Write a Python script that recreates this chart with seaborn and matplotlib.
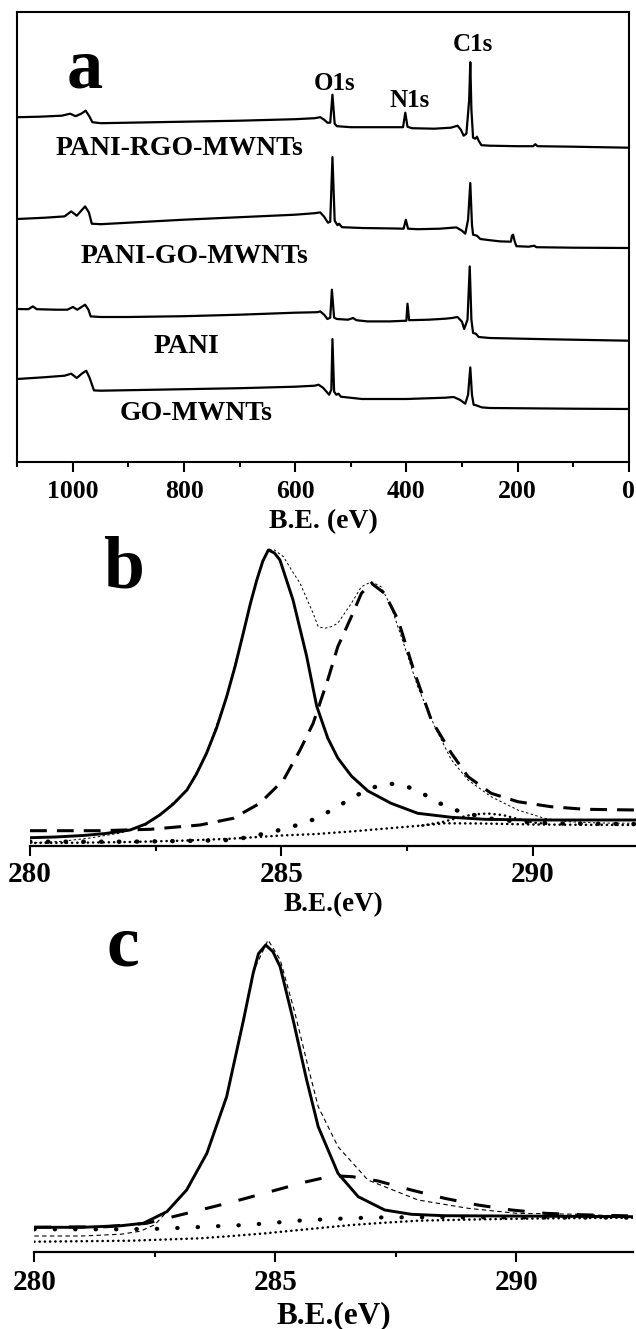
import numpy as np
import pandas as pd
import matplotlib
matplotlib.use("Agg")
import matplotlib.pyplot as plt
from matplotlib.ticker import MultipleLocator
import seaborn as sns

# ---------------- Panel a: survey spectra (B.E. eV, intensity a.u.) ----------------
rgo_be = [1100, 1060, 1020, 1005, 995, 985, 977, 970, 965, 950, 900, 800, 700, 600, 565, 555, 548, 542, 537,
          533, 529, 525, 500, 450, 406, 402, 398, 390, 350, 320, 308, 302, 297, 292, 287, 285, 283, 280, 276,
          273, 270, 265, 250, 200, 172, 168, 164, 100, 50, 0]
rgo_int = [344.5, 345, 346, 348, 345.5, 348, 351, 345, 339.5, 338.5, 339, 340, 341, 342.5, 343.5, 344.5, 342,
           339, 339, 367, 338, 335.5, 334.5, 334.5, 334.5, 349, 335, 333.5, 333, 334, 336, 332, 326, 328, 362,
           399.5, 352, 324, 323, 325, 321, 316.5, 316, 315.5, 315.5, 317.5, 315.5, 315, 314.5, 314]

go_pani_be = [1100, 1050, 1015, 1003, 993, 985, 978, 971, 966, 950, 900, 800, 700, 600, 565, 555, 548, 541, 537,
              533, 529, 524, 521, 516, 480, 420, 405, 401, 397, 380, 340, 310, 300, 294, 289, 285, 282, 280,
              273, 267, 250, 231, 212, 210, 208, 205, 202, 180, 170, 166, 100, 0]
go_pani_int = [242.7, 244, 245.3, 250.3, 246, 251, 255.3, 249, 238, 237.5, 239, 242, 244.5, 247, 248.5, 249.3,
               245, 239, 240, 304.7, 241, 236.5, 238, 234.5, 233.7, 233.2, 233, 242, 233, 232.5, 233, 234.3, 231,
               228, 242, 278.7, 237, 227, 226, 222.7, 221.5, 220.3, 220, 226, 227, 220, 215.5, 215, 216, 214.5,
               214, 213.7]

pani_be = [1100, 1080, 1072, 1065, 1030, 1010, 1000, 992, 978, 972, 968, 950, 900, 800, 700, 600, 560, 555, 548,
           542, 537, 534, 530, 525, 505, 496, 490, 470, 430, 400, 398, 395, 360, 330, 318, 308, 300, 296, 290,
           286, 283, 280, 275, 270, 250, 150, 50, 0]
pani_int = [152.7, 152.5, 155.3, 152.5, 152, 152, 154.7, 152, 157, 152, 145.3, 144.7, 144.7, 145.5, 147, 149,
            149.5, 150.3, 147, 142.7, 144, 172, 144, 142.7, 142, 143.7, 141.5, 140.3, 140.3, 141, 158, 141.5,
            142, 143, 143.7, 144.7, 140, 132.7, 142, 195.3, 142, 128.7, 128, 124.7, 123.7, 122.5, 121.5, 121]

gomw_be = [1100, 1050, 1015, 1003, 993, 984, 976, 970, 962, 950, 900, 800, 700, 600, 565, 558, 550, 539, 535,
           533, 530, 526, 522, 518, 480, 400, 330, 315, 304, 294, 289, 285, 282, 279, 275, 264, 250, 100, 0]
gomw_int = [82.7, 84.5, 86, 88, 83.7, 88, 91, 84, 71.3, 71, 71.5, 72.5, 73.5, 75, 76, 77, 74, 67, 72, 122.7,
            70, 67, 68, 65, 62.7, 62.7, 64, 64.7, 62, 58, 67, 94.3, 67, 57, 56.5, 54.3, 53.7, 53, 52.7]

survey_labels = ["PANI-RGO-MWNTs", "PANI-GO-MWNTs", "PANI", "GO-MWNTs"]
survey_label_be = [809, 782, 795, 778.5]
survey_label_int = [306.7, 198.4, 108.4, 41.7]
peak_names = ["O1s", "N1s", "C1s"]
peak_label_be = [528.7, 393.5, 279.6]
peak_label_int = [371.7, 355, 411]
survey_ticks = [1000, 800, 600, 400, 200, 0]

# ---------------- Panel b: C1s fit, PANI-GO-MWNTs ----------------
b_solid_be = [280, 280.5, 281.06, 281.5, 281.99, 282.3, 282.58, 282.85, 283.12, 283.31, 283.51, 283.71, 283.91,
              284.08, 284.24, 284.38, 284.51, 284.63, 284.74, 284.86, 284.97, 285.23, 285.5, 285.7, 285.92,
              286.12, 286.39, 286.72, 287.18, 287.71, 288.38, 289.04, 290, 292.05]
b_solid_int = [8.3, 9, 10.5, 12.5, 16, 22, 31, 42, 56, 72, 92.7, 118, 149.3, 180, 212.7, 242, 266, 285, 296,
               293, 286, 246, 190, 140, 108, 88, 70, 55, 42.7, 32.7, 28.7, 26.7, 26, 26]

b_env_be = [280, 280.6, 281.2, 281.8, 282.3, 282.58, 283.12, 283.51, 283.91, 284.24, 284.51, 284.74, 284.86,
            285.04, 285.2, 285.37, 285.63, 285.73, 285.86, 286.0, 286.12, 286.39, 286.59, 286.79, 286.98,
            287.18, 287.45, 287.71, 288.05, 288.38, 288.71, 289.17, 289.7, 290.23, 290.7, 291.3, 292.05]
b_env_int = [3.3, 4.5, 8, 13, 21, 31, 56, 93, 150, 214, 268, 297, 296, 289.3, 276, 262.7, 232.7, 219.3, 217.7,
             219.5, 222.7, 242.7, 259.3, 264.3, 259.3, 239.3, 199.3, 159.3, 119.3, 86, 66, 49.3, 36, 27.7,
             24.3, 23, 22.7]

b_dash_be = [280, 281.39, 282.39, 283.38, 284.04, 284.57, 285.04, 285.37, 285.63, 285.92, 286.12, 286.39,
             286.59, 286.79, 287.05, 287.32, 287.65, 287.98, 288.38, 288.71, 289.17, 289.7, 290.36, 291.03, 292.05]
b_dash_int = [15.3, 15.3, 16.7, 21, 27.7, 42.7, 66, 96, 122.7, 166, 199.3, 229.3, 252.7, 262.7, 252.7, 226,
              172.7, 126, 92.7, 69.3, 52.7, 44.3, 39.3, 36.7, 36]

b_bigdot_be = [280, 282, 283, 284.04, 284.7, 285.1, 285.43, 285.7, 286.06, 286.39, 286.72, 287.08, 287.42,
               287.75, 288.08, 288.41, 288.74, 289.2, 289.8, 290.5, 292.05]
b_bigdot_int = [4.3, 4.3, 5, 6, 12.7, 17.7, 22.7, 27.7, 37.7, 47.7, 56.7, 62.7, 61, 54.3, 44.3, 36.7, 32, 27,
                24, 22.5, 22]

b_bg_be = [280, 281, 282, 283, 284, 285, 285.7, 286.5, 287.2, 287.8, 288.24, 289, 290, 291, 292.05]
b_bg_int = [3, 3.3, 4, 5.3, 7.3, 10.5, 12, 15, 18, 20.5, 22.7, 22.5, 21.5, 21.2, 21]

b_small_be = [287.8, 288.2, 288.5, 288.8, 289.1, 289.4, 289.7, 290.0, 290.3]
b_small_int = [20.5, 24, 28, 31.5, 32.5, 31, 27, 23.5, 22]

# ---------------- Panel c: C1s fit, PANI-RGO-MWNTs ----------------
c_solid_be = [280, 281, 281.8, 282.26, 282.75, 283.16, 283.58, 283.99, 284.34, 284.54, 284.65, 284.8, 284.95,
              285.1, 285.37, 285.65, 285.89, 286.3, 286.72, 287.27, 287.82, 288.5, 292.45]
c_solid_int = [24.4, 24.4, 26, 28.4, 40, 61.7, 98.4, 155, 231.7, 278.4, 298, 306.7, 300, 285, 231.7, 171.7,
               125, 78.4, 55, 41.7, 37.4, 36, 35]

c_env_be = [280, 281, 281.8, 282.2, 282.5, 282.75, 283.16, 283.58, 283.99, 284.34, 284.54, 284.85, 285.1,
            285.4, 285.7, 285.89, 286.3, 286.92, 287.96, 289.0, 290.0, 291.3, 292.45]
c_env_int = [15.7, 15.7, 17.5, 20.5, 27, 40, 62, 99, 156, 233, 280, 311.7, 292, 240, 181, 145, 105, 71.7,
             51.7, 43.4, 38.4, 37.4, 35]

c_dash_be = [280, 281.5, 282.33, 282.88, 283.44, 284.13, 284.89, 285.65, 286.2, 286.6, 287.13, 287.82, 288.51,
             289.2, 289.9, 290.6, 291.3, 292.45]
c_dash_int = [24.4, 25, 28.4, 35, 41.7, 50, 60, 70, 76, 75, 70.7, 61.7, 53.4, 46.7, 41.7, 38.4, 37, 35.7]

c_bigdot_be = [280, 281.85, 282.26, 282.68, 283.09, 283.58, 283.99, 284.41, 284.82, 285.24, 285.65, 286.09,
               286.5, 286.92, 287.34, 287.75, 288.5, 292.45]
c_bigdot_int = [22.4, 22.4, 22.7, 23, 24, 25, 26, 26.7, 28.4, 30, 31.7, 32.4, 33.4, 34, 34.4, 34.4, 34.4, 34]

c_bg_be = [280, 282, 283.44, 284.1, 284.8, 285.5, 285.86, 286.58, 287.27, 287.96, 289.3, 290.7, 292.45]
c_bg_int = [10, 11, 13.4, 15.7, 18.4, 21.7, 23.4, 26.7, 29, 31, 32.4, 33.4, 34]

hr_ticks = [280, 285, 290]

# ---------------- styling ----------------
sns.set_theme(style="white")
plt.rcParams["font.family"] = ["Liberation Serif", "DejaVu Serif"]
plt.rcParams["font.weight"] = "bold"
plt.rcParams["axes.labelweight"] = "bold"
plt.rcParams["text.color"] = "black"
plt.rcParams["axes.labelcolor"] = "black"
plt.rcParams["xtick.color"] = "black"
plt.rcParams["axes.edgecolor"] = "black"

W, H = 636, 1329
fig = plt.figure(figsize=(W / 100, H / 100), dpi=100)


def box(l, t, r, b):
    return [l / W, 1 - b / H, (r - l) / W, (b - t) / H]


def line(ax, x, y, **kw):
    df = pd.DataFrame({"x": x, "y": y})
    sns.lineplot(data=df, x="x", y="y", ax=ax, sort=False, estimator=None, color="black", **kw)


# ----- panel a -----
axa = fig.add_axes(box(17.3, 12, 628.7, 461.7))
axa.set_facecolor("none")
for be, it in [(rgo_be, rgo_int), (go_pani_be, go_pani_int), (pani_be, pani_int), (gomw_be, gomw_int)]:
    line(axa, be, it, linewidth=1.6, solid_joinstyle="round")
axa.set_xlim(1100, 0)
axa.set_ylim(0, 449.7)
axa.set_yticks([])
axa.xaxis.set_minor_locator(MultipleLocator(100))
axa.set_xticks(survey_ticks)
axa.set_xticklabels([str(t) for t in survey_ticks])
axa.tick_params(axis="x", which="major", direction="out", length=7, width=1.5, labelsize=18.5, pad=6.3,
                bottom=True, colors="black")
axa.tick_params(axis="x", which="minor", direction="out", length=3.6, width=1.5, bottom=True, colors="black")
for s in axa.spines.values():
    s.set_linewidth(1.5)
    s.set_color("black")
axa.set_xlabel("B.E. (eV)", fontsize=20, fontweight="bold", labelpad=4.3, color="black")
axa.set_ylabel("")
for lab, bx, iy in zip(survey_labels, survey_label_be, survey_label_int):
    axa.text(bx, iy, lab, ha="center", va="baseline", fontsize=20, fontweight="bold", color="black")
for lab, bx, iy in zip(peak_names, peak_label_be, peak_label_int):
    axa.text(bx, iy, lab, ha="center", va="baseline", fontsize=18, fontweight="bold", color="black")
axa.text(978, 374.7, "a", ha="center", va="baseline", fontsize=52, fontweight="bold", color="black")


def hr_axes(ax, xmax, ymax, pad):
    ax.set_facecolor("none")
    ax.set_xlim(280, xmax)
    ax.set_ylim(0, ymax)
    ax.set_yticks([])
    ax.set_xticks(hr_ticks)
    ax.set_xticklabels([str(t) for t in hr_ticks])
    ax.xaxis.set_minor_locator(MultipleLocator(2.5))
    ax.tick_params(axis="x", which="major", direction="out", length=7, width=1.5, labelsize=21, pad=pad,
                   bottom=True, colors="black")
    ax.tick_params(axis="x", which="minor", direction="out", length=3.5, width=1.5, bottom=True, colors="black")
    for k in ["left", "right", "top"]:
        ax.spines[k].set_visible(False)
    ax.spines["bottom"].set_linewidth(1.6)
    ax.spines["bottom"].set_color("black")
    ax.set_ylabel("")


# ----- panel b -----
axb = fig.add_axes(box(30, 540, 636, 846))
line(axb, b_bg_be, b_bg_int, linewidth=1.8, linestyle=(0, (0.1, 2.0)), dash_capstyle="round")
line(axb, b_small_be, b_small_int, linewidth=1.8, linestyle=(0, (0.1, 2.0)), dash_capstyle="round")
line(axb, b_bigdot_be, b_bigdot_int, linewidth=3.2, linestyle=(0, (0.1, 3.9)), dash_capstyle="round")
line(axb, b_dash_be, b_dash_int, linewidth=2.2, linestyle=(0, (5.5, 3.3)))
line(axb, b_solid_be, b_solid_int, linewidth=2.1)
line(axb, b_env_be, b_env_int, linewidth=0.7, linestyle=(0, (2.5, 2.5)))
hr_axes(axb, 292.05, 306, 3.9)
axb.set_xlabel("B.E.(eV)", fontsize=19.5, fontweight="bold", labelpad=3.2, color="black")
axb.text(281.86, 258, "b", ha="center", va="baseline", fontsize=53, fontweight="bold", color="black",
         clip_on=False)

# ----- panel c -----
axc = fig.add_axes(box(34.3, 930, 633, 1251.7))
line(axc, c_bg_be, c_bg_int, linewidth=1.8, linestyle=(0, (0.1, 2.0)), dash_capstyle="round")
line(axc, c_bigdot_be, c_bigdot_int, linewidth=3.0, linestyle=(0, (0.1, 4.8)), dash_capstyle="round")
line(axc, c_dash_be, c_dash_int, linewidth=2.2, linestyle=(0, (5.5, 5.8)))
line(axc, c_solid_be, c_solid_int, linewidth=2.1)
line(axc, c_env_be, c_env_int, linewidth=0.8, linestyle=(0, (4, 3)))
hr_axes(axc, 292.42, 321.7, 5.7)
axc.set_xlabel("B.E.(eV)", fontsize=22.5, fontweight="bold", labelpad=3.5, color="black")
axc.text(281.83, 286.7, "c", ha="center", va="baseline", fontsize=53, fontweight="bold", color="black",
         clip_on=False)

fig.savefig("out.png", dpi=100)
